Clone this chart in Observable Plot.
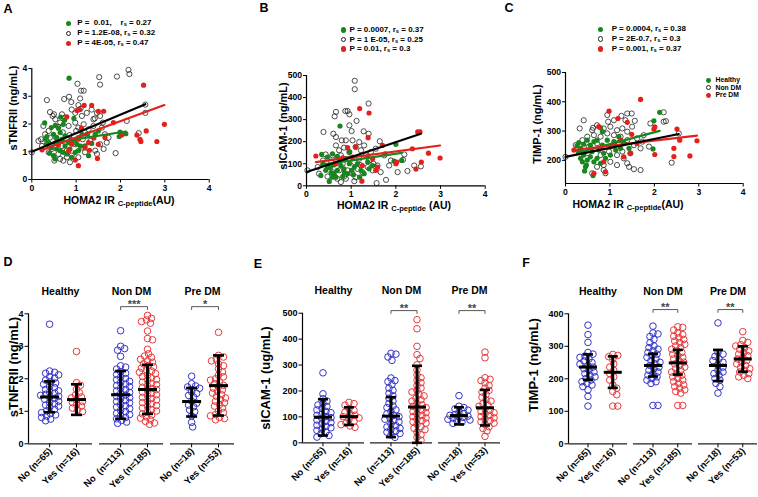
<!DOCTYPE html>
<html><head><meta charset="utf-8">
<script src="https://cdn.jsdelivr.net/npm/d3@7"></script>
<script src="https://cdn.jsdelivr.net/npm/@observablehq/plot@0.6"></script>
<style>
body{margin:0;background:#fff;}
#root{position:relative;width:758px;height:497px;overflow:hidden;font-family:"Liberation Sans",Arial,Helvetica,sans-serif;font-weight:bold;color:#000;background:#fff;}
#root svg{position:absolute;left:0;top:0;}
.t{position:absolute;white-space:pre;line-height:1;z-index:5;}
.t sub{font-size:72%;vertical-align:-0.25em;line-height:0;}
.mk{position:absolute;border-radius:50%;box-sizing:border-box;z-index:5;}
</style></head>
<body><div id="root"></div>
<script>
// ---------------- DATA ----------------
// Scatter panels: [HOMA2 IR C-peptide, marker value]
const aHealthy = [[0.84,3.65],[0.29,2.04],[0.53,1.95],[0.74,2.14],[0.71,1.99],[0.60,1.85],[0.44,1.87],[0.34,1.55],[0.49,1.63],[0.56,1.51],[0.64,1.69],[0.68,1.45],[0.75,1.57],[0.83,1.33],[0.94,1.39],[1.02,1.27],[1.05,1.51],[1.13,1.63],[1.24,1.63],[1.43,1.63],[1.50,1.75],[1.99,1.71],[2.12,1.65],[1.97,1.55],[0.38,1.33],[0.45,1.15],[0.56,1.10],[0.64,1.04],[0.71,0.98],[0.53,0.74],[0.49,0.86],[0.75,1.21],[0.86,1.10],[0.98,0.98],[0.90,0.80],[1.20,1.21],[1.28,0.86],[1.05,1.04],[0.79,0.92],[0.60,1.27],[0.30,1.45],[0.40,0.95],[0.95,2.20],[1.10,1.20],[0.65,2.25],[0.52,1.30],[0.88,1.45],[1.35,1.30]];
const aNonDM = [[2.18,3.95],[2.20,3.80],[1.92,3.71],[1.52,3.69],[1.03,3.45],[1.54,3.42],[1.11,3.20],[1.17,3.20],[0.34,2.86],[0.73,2.90],[0.84,2.98],[0.89,2.79],[1.09,2.92],[1.05,2.68],[2.56,2.70],[2.56,2.40],[0.41,2.43],[0.47,2.29],[0.68,2.35],[0.90,2.52],[0.98,2.40],[1.13,2.29],[1.24,2.40],[1.35,2.52],[1.47,2.40],[1.54,2.29],[1.39,2.17],[0.26,1.93],[0.38,1.75],[0.53,2.17],[0.64,2.05],[0.75,2.23],[0.83,1.93],[0.98,2.05],[1.05,1.87],[1.17,1.99],[1.28,1.81],[1.39,1.93],[1.58,1.87],[1.65,1.63],[1.73,1.51],[1.69,1.33],[1.89,0.95],[2.14,2.11],[2.41,1.67],[0.21,1.45],[0.30,1.63],[0.34,1.27],[0.41,1.51],[0.45,1.10],[0.56,1.33],[0.60,0.92],[0.68,1.21],[0.71,0.68],[0.79,1.04],[0.86,0.62],[0.90,0.86],[0.98,1.27],[1.05,0.80],[1.13,1.15],[1.20,0.98],[1.32,1.39],[1.43,1.04],[1.47,0.92],[1.54,1.27],[1.62,1.10],[0.51,0.68],[0.64,0.74],[0.79,0.80],[0.38,0.98],[0.23,1.21],[0.15,1.39],[0.00,0.98],[0.55,1.50],[0.70,1.70],[0.85,1.60],[1.00,1.75],[1.15,1.45],[1.25,1.60],[0.60,1.90],[1.42,2.20],[1.60,2.05],[1.10,2.55],[0.50,2.35],[0.95,1.35]];
const aPreDM = [[2.52,3.40],[1.18,2.67],[1.02,2.49],[1.08,2.52],[1.35,2.67],[1.50,2.46],[1.62,2.46],[0.79,2.26],[1.84,2.05],[2.99,1.99],[2.58,1.75],[2.37,1.60],[2.44,1.45],[2.46,1.37],[2.82,1.37],[2.03,1.60],[1.50,1.27],[1.28,1.33],[1.20,1.15],[1.05,1.45],[0.90,1.27],[1.48,0.76],[1.05,0.50],[0.98,0.70],[0.23,1.07],[0.83,1.04],[1.30,1.05],[1.65,1.51],[0.60,1.25],[1.12,1.85],[1.40,1.50]];
const aFits = [{group:"Healthy",a:1.2,b:0.25},{group:"Pre DM",a:0.93,b:0.586},{group:"Non DM",a:1.0,b:0.67}];

const bHealthy = [[0.75,271],[0.34,142],[0.47,130],[0.58,145],[0.69,133],[0.88,123],[0.96,153],[2.00,188],[1.96,112],[2.13,115],[0.32,47],[0.51,20],[0.43,70],[0.54,85],[0.62,55],[0.69,70],[0.77,92],[0.84,77],[0.92,55],[1.01,70],[1.07,85],[1.14,100],[1.22,70],[1.29,55],[1.40,77],[1.48,92],[0.37,100],[0.47,85],[0.66,39],[0.58,39],[0.81,42],[1.19,39],[1.37,108],[0.96,100],[0.73,108],[0.55,60],[0.62,95],[0.85,60],[1.05,50]];
const bNonDM = [[1.08,476],[1.08,438],[1.39,373],[0.66,335],[0.63,315],[0.87,339],[0.92,339],[0.96,324],[1.12,294],[0.96,274],[1.01,248],[0.38,244],[1.28,247],[1.39,236],[0.60,236],[0.66,221],[0.79,206],[0.88,206],[1.03,206],[1.18,198],[1.29,183],[1.64,202],[0.66,183],[0.73,161],[0.84,173],[0.96,153],[1.10,176],[1.22,161],[1.33,138],[1.44,153],[1.55,168],[1.74,138],[1.89,115],[2.19,142],[2.16,118],[1.85,92],[2.04,62],[2.26,67],[2.41,92],[2.56,88],[1.57,12],[1.78,27],[1.07,21],[0.43,142],[0.37,115],[0.25,85],[0.02,70],[0.51,85],[0.58,62],[0.73,70],[0.84,42],[0.92,70],[1.03,55],[1.14,77],[1.25,62],[1.37,85],[1.48,70],[1.59,92],[1.66,62],[0.66,115],[0.81,100],[0.96,123],[1.07,108],[1.18,123],[1.40,115],[0.58,138],[0.77,138],[0.47,42],[0.69,32],[1.10,39],[0.77,17],[0.28,55],[0.88,32],[1.50,100],[1.20,95],[0.55,110]];
const bPreDM = [[1.19,350],[1.40,330],[1.38,218],[2.49,244],[2.54,244],[0.21,135],[2.73,148],[2.99,126],[2.57,108],[2.45,76],[2.00,100],[2.02,108],[1.24,21],[1.59,85],[1.55,70],[1.10,176],[0.92,173],[1.48,123],[1.70,183],[1.37,130],[0.81,127],[0.66,100],[2.37,168],[1.25,92],[1.03,130],[1.76,145]];
const bFits = [{group:"Healthy",a:85,b:30},{group:"Pre DM",a:102,b:27},{group:"Non DM",a:62,b:68}];

const cHealthy = [[2.12,364],[1.99,335],[1.97,239],[0.79,311],[0.83,298],[0.30,261],[0.26,250],[0.34,241],[0.41,255],[0.49,269],[0.56,252],[0.64,264],[0.71,269],[0.83,252],[0.94,269],[1.01,247],[1.09,264],[1.20,281],[1.31,258],[1.43,241],[0.41,218],[0.49,201],[0.56,212],[0.64,195],[0.71,207],[0.79,190],[0.90,207],[1.01,218],[0.45,178],[0.47,184],[0.43,164],[0.62,148],[0.38,195],[0.30,230],[0.86,224],[1.13,235],[1.24,241],[0.75,235],[0.60,230],[0.34,207]];
const cNonDM = [[2.21,364],[2.21,332],[2.26,334],[0.41,337],[0.32,309],[1.39,360],[1.49,360],[1.56,335],[1.35,337],[1.26,352],[0.96,332],[1.09,337],[0.62,311],[0.71,320],[0.86,309],[1.01,315],[1.16,303],[1.28,309],[1.39,298],[1.50,315],[1.91,326],[2.55,292],[1.61,275],[1.73,264],[1.88,247],[1.69,241],[1.54,252],[1.39,269],[1.24,281],[1.09,286],[0.94,292],[0.79,281],[0.64,286],[0.49,281],[0.38,269],[0.23,252],[0.00,212],[0.53,247],[0.71,258],[0.98,230],[1.16,218],[1.31,207],[1.39,190],[1.43,178],[1.54,170],[1.69,167],[1.16,184],[1.01,195],[0.86,184],[0.71,178],[0.86,167],[0.60,156],[0.90,156],[2.39,192],[1.28,230],[1.46,224],[0.79,218],[0.34,235],[1.76,286],[0.60,303],[0.94,355],[1.20,260],[0.50,225],[1.05,250]];
const cPreDM = [[1.69,408],[0.98,368],[1.18,343],[1.39,330],[2.01,314],[1.99,307],[2.51,307],[2.57,269],[2.96,267],[2.44,241],[2.80,215],[2.44,213],[2.01,220],[1.49,289],[1.46,224],[1.31,212],[0.86,195],[0.64,156],[0.90,161],[0.75,315],[0.19,235],[1.09,252],[1.61,258],[0.79,241],[1.24,269]];
const cFits = [{group:"Healthy",a:215,b:40.4},{group:"Pre DM",a:232,b:17.7},{group:"Non DM",a:212,b:30.6}];

const aLegend = ["P =  0.01,    r<sub>s</sub> = 0.27","P = 1.2E-08, r<sub>s</sub> = 0.32","P = 4E-05, r<sub>s</sub> = 0.47"];
const bLegend = ["P = 0.0007, r<sub>s</sub> = 0.37","P = 1 E-05, r<sub>s</sub> = 0.25","P = 0.01, r<sub>s</sub> = 0.3"];
const cLegend = ["P = 0.0004, r<sub>s</sub> = 0.38","P = 2E-0.7, r<sub>s</sub> = 0.3","P = 0.001, r<sub>s</sub> = 0.37"];
const groupNames = ["Healthy","Non DM","Pre DM"];
const subNames = ["No","Yes"];

// Dot plots, order: Healthy No, Healthy Yes, Non DM No, Non DM Yes, Pre DM No, Pre DM Yes
const dLabels = ["No (n=65)","Yes (n=16)","No  (n=113)","Yes (n=185)","No (n=18)","Yes (n=53)"];
const fLabels = ["No (n=65)","Yes (n=16)","No (n=113)","Yes (n=185)","No (n=18)","Yes (n=53)"];

const dHN = [3.68,2.24,2.2,2.17,2.12,2.06,2.02,1.96,1.91,1.87,1.83,1.76,1.73,1.67,1.63,1.59,1.56,1.52,1.49,1.46,1.43,1.4,1.37,1.31,1.27,1.23,1.19,1.16,1.12,1.06,1.01,0.96,0.93,0.89,0.86,0.81,0.76,0.71];
const dHY = [2.84,1.88,1.8,1.68,1.57,1.5,1.44,1.41,1.35,1.3,1.27,1.2,1.16,1.1,1.04,0.99];
const dNN = [3.48,3.0,2.93,2.88,2.69,2.4,2.36,2.3,2.22,2.17,2.13,2.05,2.01,1.97,1.92,1.88,1.84,1.79,1.76,1.71,1.67,1.63,1.58,1.54,1.5,1.46,1.42,1.39,1.34,1.3,1.26,1.21,1.17,1.13,1.08,1.03,0.99,0.94,0.9,0.86,0.81,0.77,0.72,0.67,0.63];
const dNY = [3.95,3.86,3.81,3.76,3.71,3.47,3.24,3.2,2.91,2.77,2.7,2.66,2.6,2.55,2.51,2.46,2.41,2.37,2.33,2.28,2.24,2.2,2.16,2.11,2.07,2.03,1.98,1.95,1.9,1.86,1.82,1.78,1.74,1.7,1.67,1.63,1.59,1.55,1.51,1.47,1.43,1.39,1.35,1.31,1.27,1.23,1.18,1.14,1.1,1.05,1.01,0.97,0.92,0.88,0.83,0.79,0.74,0.69,0.64,0.6];
const dPN = [2.08,1.85,1.78,1.75,1.71,1.6,1.55,1.49,1.44,1.31,1.25,1.19,1.14,1.04,0.99,0.86,0.66,0.52];
const dPY = [3.43,2.72,2.67,2.59,2.55,2.46,2.4,2.31,2.21,2.11,2.06,2.0,1.96,1.9,1.85,1.8,1.76,1.71,1.66,1.61,1.56,1.51,1.46,1.41,1.36,1.31,1.26,1.21,1.16,1.1,1.01,0.96,0.9,0.86,0.81,0.78,0.74];
const dMean = [1.44,1.36,1.51,1.67,1.30,1.79];
const dLo = [0.97,0.89,0.77,0.92,0.84,0.87];
const dHi = [1.92,1.83,2.24,2.43,1.72,2.72];
const dSig = [{group:"Non DM",label:"***",level:4.22},{group:"Pre DM",label:"*",level:4.22}];

const eHN = [270,189,170,161,152,146,140,133,127,121,116,110,106,101,97,92,88,83,78,73,68,63,58,53,48,42,35,28,22];
const eHY = [156,151,145,131,125,118,111,106,101,96,90,83,76,70,65,60];
const eNN = [345,342,331,318,250,240,236,225,211,202,191,181,172,161,152,142,136,127,121,112,106,101,96,91,86,81,72,66,61,56,51,46,41,36,30,21];
const eNY = [475,440,372,340,325,301,281,262,251,241,232,221,211,202,196,186,181,172,166,161,152,146,141,136,131,126,121,116,111,106,101,96,91,86,81,76,71,62,56,51,41,31,21,10];
const ePN = [182,141,136,131,126,119,113,109,106,103,100,98,95,91,88,85,80,75];
const ePY = [350,328,251,245,240,231,221,211,202,196,186,176,166,161,151,146,141,131,126,121,116,111,106,101,96,91,86,81,76,71,62,55,46,25];
const eMean = [99,101,103,138,105,135];
const eLo = [28,69,22,0,71,67];
const eHi = [168,137,176,297,137,204];
const eSig = [{group:"Non DM",label:"**",level:510},{group:"Pre DM",label:"**",level:510}];

const fHN = [365,336,312,281,276,270,266,261,255,250,245,241,236,231,226,221,216,211,206,201,196,191,186,181,176,166,146,116];
const fHY = [275,272,268,260,246,236,226,216,206,196,181,171,161,151,116,116];
const fNN = [362,341,338,330,321,311,301,296,291,286,281,276,271,266,261,256,251,246,241,236,231,226,221,216,211,206,201,196,191,186,118,118];
const fNY = [360,358,350,341,336,331,326,321,316,311,306,301,296,291,286,281,276,271,266,261,256,251,246,241,236,231,226,221,216,211,206,201,196,191,186,181,176,171,166,161,156,118,118];
const fPN = [372,281,276,269,261,256,251,241,236,226,221,216,211,201,196,186,176,156];
const fPY = [345,318,312,305,301,296,291,286,281,276,271,266,261,256,251,246,241,236,231,226,221,216,211,206,201];
const fMean = [236,220,241,249,241,261];
const fLo = [197,172,207,213,193,222];
const fHi = [275,269,277,289,289,300];
const fSig = [{group:"Non DM",label:"**",level:413},{group:"Pre DM",label:"**",level:413}];

// ---------------- RENDER ----------------
const W = 758, H = 497;
const FONT = '"Liberation Sans", Arial, Helvetica, sans-serif';
const GREEN = "#18861e", RED = "#e3201c", BLUE = "#3535c8", RED2 = "#e63a3c";
const root = document.getElementById("root");
const intFmt = d3.format("d");

function svgStyle(size) {
  return {background: "transparent", fontFamily: FONT, fontWeight: "bold", fontSize: size + "px", overflow: "visible", color: "#000"};
}

function scatterPanel({healthy, nondm, predm, fits, yDomain, yTicks, frame}) {
  const [l, r, t, b] = frame;
  const byGroup = {"Healthy": healthy, "Non DM": nondm, "Pre DM": predm};
  const colors = {"Healthy": GREEN, "Non DM": "#000", "Pre DM": RED};
  const lineMarks = fits.map(f => {
    const xs = byGroup[f.group].map(d => d[0]);
    const ends = [d3.min(xs), d3.max(xs)].map(x => ({x, y: f.a + f.b * x}));
    return Plot.line(ends, {x: "x", y: "y", stroke: colors[f.group], strokeWidth: 2.2});
  });
  return Plot.plot({
    width: W, height: H,
    marginLeft: l, marginRight: W - r, marginTop: t, marginBottom: H - b,
    style: svgStyle(8.6),
    x: {domain: [0, 4], axis: null},
    y: {domain: yDomain, axis: null},
    marks: [
      Plot.axisX({ticks: [0, 1, 2, 3, 4], tickFormat: intFmt, tickSize: 3.5, tickPadding: 2, label: null}),
      Plot.axisY({ticks: yTicks, tickFormat: intFmt, tickSize: 3, tickPadding: 1.5, label: null}),
      Plot.ruleX([0], {strokeWidth: 1.2}),
      Plot.ruleY([yDomain[0]], {strokeWidth: 1.2}),
      Plot.dot(nondm, {x: d => d[0], y: d => d[1], r: 2.6, stroke: "#222", strokeWidth: 0.8, fill: "none"}),
      Plot.dot(healthy, {x: d => d[0], y: d => d[1], r: 2.6, fill: GREEN}),
      Plot.dot(predm, {x: d => d[0], y: d => d[1], r: 2.6, fill: RED}),
      ...lineMarks
    ]
  });
}

// deterministic beeswarm: horizontal pixel offsets so that circles overlap little
function swarm(values, pxPerUnit, dmin, maxHalf) {
  const order = values.map((v, i) => i).sort((a, b) => values[b] - values[a]);
  const placed = [];
  const off = new Array(values.length).fill(0);
  for (const i of order) {
    const y = values[i] * pxPerUnit;
    let best = 0, bestScore = -1;
    for (let k = 0; k <= 2 * maxHalf; k++) {
      const o = (k % 2 ? 1 : -1) * Math.ceil(k / 2);
      let md = Infinity;
      for (const p of placed) {
        const dy = y - p.y;
        if (Math.abs(dy) >= dmin) continue;
        md = Math.min(md, Math.hypot(o - p.o, dy));
      }
      if (md >= dmin) { best = o; bestScore = Infinity; break; }
      if (md > bestScore) { bestScore = md; best = o; }
    }
    off[i] = best;
    placed.push({o: best, y});
  }
  return off;
}

function dotPanel({vals, mean, lo, hi, labels, sig, yDomain, yTicks, frame, gap, bw}) {
  const [l, r, t, b] = frame;
  const Wf = (r - l - 2 * gap) / 3;
  const cx = {No: 0.33 * Wf, Yes: 0.75 * Wf};
  const pxPerUnit = (b - t) / (yDomain[1] - yDomain[0]);
  const cells = groupNames.flatMap(g => subNames.map(s => ({group: g, sub: s})));
  const rows = cells.flatMap((c, i) => {
    const off = swarm(vals[i], pxPerUnit, 4.6, 11);
    return vals[i].map((v, j) => ({...c, v, x: cx[c.sub] + off[j]}));
  });
  const stats = cells.map((c, i) => ({...c, x: cx[c.sub], mean: mean[i], lo: lo[i], hi: hi[i], label: labels[i]}));
  const tick = 0.025 * (yDomain[1] - yDomain[0]);
  const sigEnds = sig.flatMap(s => subNames.map(sub => ({...s, x: cx[sub]})));
  const half = bw / 2, capHalf = bw / 2 - 4;
  return Plot.plot({
    width: W, height: H,
    marginLeft: l, marginRight: W - r, marginTop: t, marginBottom: H - b,
    style: svgStyle(9),
    fx: {domain: groupNames, paddingInner: gap / (Wf + gap), paddingOuter: 0, round: false, axis: null},
    x: {domain: [0, Wf], axis: null},
    y: {domain: yDomain, axis: null},
    marks: [
      Plot.axisFx({anchor: "top", tickSize: 0, tickPadding: 19, label: null, fontSize: 10.5}),
      Plot.axisY({ticks: yTicks, tickFormat: intFmt, tickSize: 3.5, tickPadding: 1.5, label: null}),
      Plot.axisX({ticks: [cx.No, cx.Yes], tickSize: 4, fill: "none", label: null}),
      Plot.ruleY([yDomain[0]], {strokeWidth: 1.2, stroke: "#222"}),
      Plot.ruleX([{group: groupNames[0], x: 0}], {fx: "group", x: "x", strokeWidth: 1.2}),
      Plot.dot(rows.filter(d => d.sub === "No"), {fx: "group", x: "x", y: "v", r: 3.3, stroke: BLUE, strokeWidth: 1, fill: "none"}),
      Plot.dot(rows.filter(d => d.sub === "Yes"), {fx: "group", x: "x", y: "v", r: 3.3, stroke: RED2, strokeWidth: 1, fill: "none"}),
      Plot.ruleX(stats, {fx: "group", x: "x", y1: "lo", y2: "hi", strokeWidth: 3}),
      Plot.link(stats, {fx: "group", x1: d => d.x - half, x2: d => d.x + half, y1: "mean", y2: "mean", strokeWidth: 3}),
      Plot.link(stats, {fx: "group", x1: d => d.x - capHalf, x2: d => d.x + capHalf, y1: "lo", y2: "lo", strokeWidth: 2.6}),
      Plot.link(stats, {fx: "group", x1: d => d.x - capHalf, x2: d => d.x + capHalf, y1: "hi", y2: "hi", strokeWidth: 2.6}),
      Plot.link(sig, {fx: "group", x1: () => cx.No, x2: () => cx.Yes, y1: "level", y2: "level", stroke: "#444", strokeWidth: 0.9}),
      Plot.link(sigEnds, {fx: "group", x1: "x", x2: "x", y1: "level", y2: d => d.level - tick, stroke: "#444", strokeWidth: 0.9}),
      Plot.text(sig, {fx: "group", x: () => (cx.No + cx.Yes) / 2, y: "level", text: "label", dy: -2, fontSize: 11, fill: "#444"}),
      Plot.text(stats, {fx: "group", x: "x", text: "label", frameAnchor: "bottom", rotate: -45, textAnchor: "end", dx: 3, dy: 8, fontSize: 9.5})
    ]
  });
}

const panels = [
  scatterPanel({healthy: aHealthy, nondm: aNonDM, predm: aPreDM, fits: aFits, yDomain: [0, 4], yTicks: [0, 1, 2, 3, 4], frame: [31.3, 208.7, 68, 179]}),
  scatterPanel({healthy: bHealthy, nondm: bNonDM, predm: bPreDM, fits: bFits, yDomain: [0, 500], yTicks: [0, 100, 200, 300, 400, 500], frame: [306, 484.7, 75, 185.3]}),
  scatterPanel({healthy: cHealthy, nondm: cNonDM, predm: cPreDM, fits: cFits, yDomain: [121, 500], yTicks: [200, 300, 400, 500], frame: [565, 742.7, 72, 183]}),
  dotPanel({vals: [dHN, dHY, dNN, dNY, dPN, dPY], mean: dMean, lo: dLo, hi: dHi, labels: dLabels, sig: dSig, yDomain: [0, 4], yTicks: [0, 1, 2, 3, 4], frame: [28, 234, 313.3, 443.3], gap: 7, bw: 19}),
  dotPanel({vals: [eHN, eHY, eNN, eNY, ePN, ePY], mean: eMean, lo: eLo, hi: eHi, labels: dLabels, sig: eSig, yDomain: [0, 500], yTicks: [0, 100, 200, 300, 400, 500], frame: [302, 500, 312.7, 442.3], gap: 6, bw: 18}),
  dotPanel({vals: [fHN, fHY, fNN, fNY, fPN, fPY], mean: fMean, lo: fLo, hi: fHi, labels: fLabels, sig: fSig, yDomain: [0, 400], yTicks: [0, 100, 200, 300, 400], frame: [568, 757, 313.3, 443.3], gap: 6, bw: 18})
];
for (const p of panels) root.appendChild(p);

// HTML text overlays
function txt(html, x, y, {size = 9, anchor = "start", color = "#000"} = {}) {
  const d = document.createElement("div");
  d.className = "t";
  d.innerHTML = html;
  d.style.fontSize = size + "px";
  d.style.color = color;
  d.style.left = x + "px";
  d.style.top = y + "px";
  const tx = anchor === "middle" ? "-50%" : anchor === "end" ? "-100%" : "0";
  d.style.transform = `translate(${tx}, -50%)`;
  root.appendChild(d);
}
function marker(x, y, kind, r = 2.6) {
  const m = document.createElement("div");
  m.className = "mk";
  m.style.width = m.style.height = (2 * r) + "px";
  m.style.left = (x - r) + "px";
  m.style.top = (y - r) + "px";
  if (kind === "open") m.style.border = "0.8px solid #222";
  else m.style.background = kind;
  root.appendChild(m);
}
const kinds = [GREEN, "open", RED];
function legend(lines, mx, tx, ys) {
  lines.forEach((s, i) => { marker(mx, ys[i], kinds[i]); txt(s, tx, ys[i], {size: 8}); });
}
legend(aLegend, 68.3, 77.3, [23.3, 33.3, 43.3]);
legend(bLegend, 343.3, 349.5, [30, 39.5, 49]);
legend(cLegend, 600.7, 611.7, [29.3, 39, 49]);
groupNames.forEach((g, i) => {
  const y = [80.3, 87.8, 95.3][i];
  marker(708.3, y, kinds[i], 2.4);
  txt(g, 715.5, y, {size: 6.8});
});

// panel letters
[["A", 8, 9], ["B", 264, 8], ["C", 509, 8], ["D", 8, 262], ["E", 258, 264], ["F", 526, 263]]
  .forEach(([s, x, y]) => txt(s, x, y, {size: 12.5, anchor: "middle"}));

// axis titles
const homa = "HOMA2 IR <sub>C-peptide</sub>(AU)";
txt(homa, 119, 200, {size: 10.5, anchor: "middle"});
txt("HOMA2 IR <sub>C-peptide</sub> (AU)", 394, 205, {size: 10.5, anchor: "middle"});
txt(homa, 628, 204, {size: 10.5, anchor: "middle"});
function ylab(s, x, y, size) {
  const d = document.createElement("div");
  d.className = "t"; d.textContent = s; d.style.fontSize = size + "px";
  d.style.left = x + "px"; d.style.top = y + "px";
  d.style.transform = "translate(-50%, -50%) rotate(-90deg)";
  root.appendChild(d);
}
ylab("sTNFRII (ng/mL)", 12.5, 108, 11);
ylab("sICAM-1 (ng/mL)", 282.5, 126, 11);
ylab("TIMP-1 (ng/mL)", 537, 124, 11);
ylab("sTNFRII (ng/mL)", 12.5, 367, 13);
ylab("sICAM-1 (ug/mL)", 265, 378, 13);
ylab("TIMP-1 (ng/mL)", 533, 365, 13);
</script>
</body></html>
